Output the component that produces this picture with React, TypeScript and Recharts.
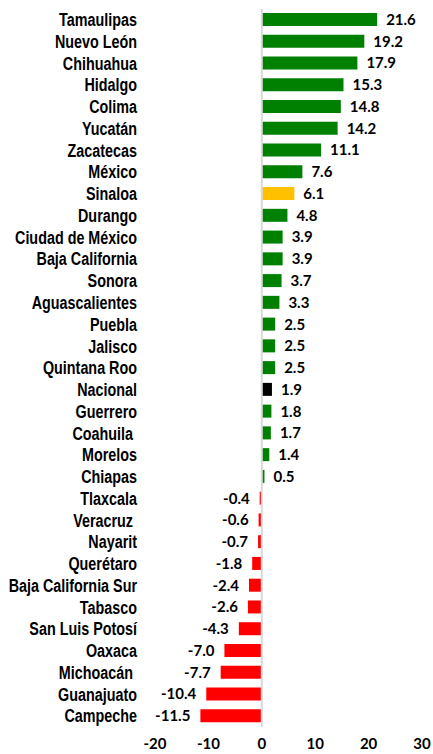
import { Bar, BarChart, Cell, LabelList, ReferenceLine, XAxis, YAxis } from "recharts";

const STATES = [
  "Tamaulipas", "Nuevo León", "Chihuahua", "Hidalgo", "Colima", "Yucatán", "Zacatecas", "México",
  "Sinaloa", "Durango", "Ciudad de México", "Baja California", "Sonora", "Aguascalientes", "Puebla",
  "Jalisco", "Quintana Roo", "Nacional", "Guerrero", "Coahuila\u00a0", "Morelos", "Chiapas", "Tlaxcala",
  "Veracruz\u00a0", "Nayarit", "Querétaro", "Baja California Sur", "Tabasco", "San Luis Potosí", "Oaxaca",
  "Michoacán\u00a0", "Guanajuato", "Campeche",
];

const VALUES = [
  21.6, 19.2, 17.9, 15.3, 14.8, 14.2, 11.1, 7.6, 6.1, 4.8, 3.9, 3.9, 3.7, 3.3, 2.5, 2.5, 2.5, 1.9, 1.8,
  1.7, 1.4, 0.5, -0.4, -0.6, -0.7, -1.8, -2.4, -2.6, -4.3, -7.0, -7.7, -10.4, -11.5,
];

const X_TICKS = [-20, -10, 0, 10, 20, 30];

const SPECIAL_COLORS: Record<string, string> = {
  Sinaloa: "#ffc000",
  Nacional: "#000000",
};

const data = STATES.map((name, i) => ({ name, value: VALUES[i] }));

function barColor(name: string, value: number) {
  if (SPECIAL_COLORS[name]) return SPECIAL_COLORS[name];
  return value < 0 ? "#ff0000" : "#008000";
}

const valueFont = { fontFamily: "Lato, sans-serif", fontWeight: 700, fontSize: 15, fill: "#000" };

function ValueLabel(props: any) {
  const { x, y, width, height, value } = props;
  const neg = value < 0;
  const tx = neg ? x + width - 10 : x + width + 9;
  return (
    <text x={tx} y={y + height / 2} dy="0.36em" textAnchor={neg ? "end" : "start"} {...valueFont}>
      {Number(value).toFixed(1)}
    </text>
  );
}

// narrow bold label, squeezed since no narrow face is installed
function StateTick(props: any) {
  const { x, y, payload } = props;
  return (
    <text
      x={x}
      y={y}
      dy="0.36em"
      textAnchor="end"
      transform={`translate(${x} ${y}) scale(0.82 1) translate(${-x} ${-y})`}
      fontFamily="'Liberation Sans', Arial, sans-serif"
      fontWeight={700}
      fontSize={17.5}
      fill="#000"
    >
      {payload.value}
    </text>
  );
}

export default function App() {
  return (
    <div style={{ position: "absolute", left: 0, top: 0, width: 433, height: 754, background: "#fff" }}>
      <BarChart
        width={433}
        height={754}
        data={data}
        layout="vertical"
        margin={{ top: 9, right: 11, bottom: 0, left: 0 }}
        barSize={13}
      >
        <XAxis
          type="number"
          domain={[-20, 30]}
          ticks={X_TICKS}
          axisLine={false}
          tickLine={false}
          tickMargin={5}
          height={27}
          tick={valueFont}
        />
        <YAxis
          type="category"
          dataKey="name"
          width={155}
          axisLine={false}
          tickLine={false}
          tickMargin={12}
          interval={0}
          tick={<StateTick />}
        />
        <ReferenceLine x={0} stroke="#d9d9d9" strokeWidth={2} />
        <Bar dataKey="value" isAnimationActive={false}>
          {data.map((d) => (
            <Cell key={d.name} fill={barColor(d.name, d.value)} />
          ))}
          <LabelList dataKey="value" content={ValueLabel} />
        </Bar>
      </BarChart>
    </div>
  );
}
